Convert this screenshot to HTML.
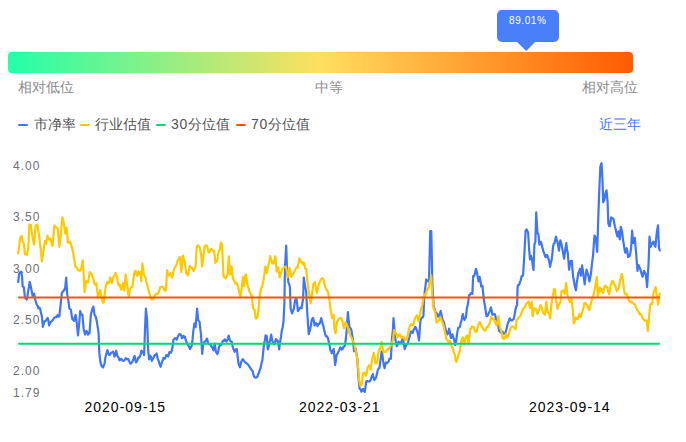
<!DOCTYPE html>
<html><head><meta charset="utf-8">
<style>
html,body{margin:0;padding:0;background:#fff;}
body{width:686px;height:442px;position:relative;overflow:hidden;font-family:"Liberation Sans",sans-serif;}
.t{position:absolute;white-space:nowrap;line-height:1;}
.bar{position:absolute;left:8px;top:51.6px;width:624.5px;height:21.6px;border-radius:4px;background:linear-gradient(90deg,#22FFAA 0%,#FFDF5F 50%,#FF5B00 100%);}
.tip{position:absolute;left:497px;top:10px;width:62px;height:31.7px;border-radius:5px;background:#4A7FFA;}
.lab{font-size:14px;color:#8a8a8a;}
.leg{font-size:14px;color:#555;}
.dash{position:absolute;height:2px;top:123.8px;width:10px;border-radius:1px;}
.ya{font-size:12px;color:#6E7079;letter-spacing:1px;}
.xa{font-size:14px;color:#000;letter-spacing:1px;}
svg{position:absolute;left:0;top:0;}
</style></head><body>
<div class="bar"></div>
<div class="tip"></div>
<svg width="686" height="442" style="position:absolute;left:0;top:0">
<polygon points="516.6,41.5 535.6,41.5 526.2,51" fill="#4A7FFA"/>
</svg>
<div class="t" id="tiptext" style="left:509px;top:16px;font-size:10px;color:#fff;letter-spacing:0.6px;">89.01%</div>
<div class="t lab" id="l1" style="left:18px;top:80px;">相对低位</div>
<div class="t lab" id="l2" style="left:315px;top:80px;">中等</div>
<div class="t lab" id="l3" style="left:582px;top:80px;">相对高位</div>

<div class="dash" style="left:18.2px;background:#3F75F8"></div>
<div class="t leg" id="g1" style="left:34px;top:117px;">市净率</div>
<div class="dash" style="left:80px;background:#FFC800"></div>
<div class="t leg" id="g2" style="left:95px;top:117px;">行业估值</div>
<div class="dash" style="left:155.8px;background:#06D876"></div>
<div class="t leg" id="g3" style="left:171px;top:117px;"><span style="letter-spacing:0.8px">30</span>分位值</div>
<div class="dash" style="left:235.8px;background:#FF5500"></div>
<div class="t leg" id="g4" style="left:251px;top:117px;"><span style="letter-spacing:0.8px">70</span>分位值</div>
<div class="t" id="g5" style="left:599px;top:117px;font-size:14px;color:#3F75F8;">近三年</div>

<div class="t ya" id="y1" style="left:13px;top:160px;">4.00</div>
<div class="t ya" id="y2" style="left:13px;top:211px;">3.50</div>
<div class="t ya" id="y3" style="left:13px;top:263px;">3.00</div>
<div class="t ya" id="y4" style="left:13px;top:314px;">2.50</div>
<div class="t ya" id="y5" style="left:13px;top:365px;">2.00</div>
<div class="t ya" id="y6" style="left:13px;top:387px;">1.79</div>

<div class="t xa" id="x1" style="left:84.5px;top:400px;">2020-09-15</div>
<div class="t xa" id="x2" style="left:299px;top:400px;">2022-03-21</div>
<div class="t xa" id="x3" style="left:529px;top:400px;">2023-09-14</div>

<svg width="686" height="442">
<polyline fill="none" stroke="#3F75F8" stroke-width="2.2" stroke-linejoin="round" stroke-linecap="round" points="18.2,281.9 19.1,273.8 20.1,272.4 21.2,271.6 22.1,276.8 22.6,286.3 23.8,287.1 25.0,298.1 25.9,298.0 26.8,299.6 27.5,295.9 28.2,290.7 28.9,286.9 29.7,281.9 30.4,284.7 31.2,288.5 31.9,292.2 32.6,295.9 33.4,294.7 34.1,293.7 34.9,297.7 35.6,301.0 36.4,303.8 37.1,305.4 37.8,306.0 38.5,308.4 39.4,307.7 40.3,309.1 41.0,313.1 41.8,315.7 42.9,326.8 43.6,324.1 44.4,321.6 45.5,321.1 46.6,319.4 47.6,317.9 48.4,320.5 49.1,325.3 50.0,323.3 51.0,321.6 52.1,321.0 53.2,319.4 54.3,317.7 55.4,317.2 56.5,317.1 57.6,315.0 58.5,316.6 59.4,316.5 60.6,304.7 61.8,293.7 62.6,291.6 63.5,291.5 64.2,289.4 65.0,289.3 66.2,277.5 67.2,294.4 68.2,299.6 69.4,308.4 70.2,309.2 70.9,309.9 71.7,315.6 72.4,319.4 73.2,319.9 74.1,320.9 74.8,317.3 75.6,315.0 76.8,323.1 78.0,335.3 79.2,323.5 80.2,311.0 81.2,314.7 82.4,314.7 83.6,328.7 84.3,331.5 85.1,334.6 85.8,331.7 86.5,330.9 87.2,332.1 88.0,334.6 88.8,333.7 89.5,333.1 90.2,323.9 90.9,314.7 91.7,311.2 92.4,308.8 93.4,306.6 94.5,314.7 95.2,315.6 95.9,317.6 96.7,320.7 97.4,325.0 98.6,333.1 99.3,352.9 100.4,361.8 101.5,366.0 102.2,366.7 103.0,367.5 103.8,365.3 104.5,364.0 105.3,358.1 106.2,354.4 107.4,350.0 108.3,353.3 109.2,355.1 110.2,354.1 111.1,352.9 112.0,352.5 113.0,351.5 113.8,353.4 114.5,356.6 115.3,354.7 116.2,350.7 117.0,354.4 117.7,356.6 118.6,357.6 119.5,360.3 120.5,359.2 121.4,358.8 122.5,360.4 123.6,361.0 124.7,360.0 125.8,358.1 126.9,359.4 128.0,358.8 128.9,360.5 129.8,362.5 130.5,363.6 131.2,363.2 132.1,362.1 133.1,360.3 133.8,357.7 134.6,355.9 135.3,359.4 136.1,362.5 137.2,360.8 138.3,357.4 139.2,357.7 140.0,356.5 140.8,353.6 141.5,350.6 142.2,351.5 142.9,352.1 144.1,355.0 145.1,327.1 145.9,308.7 147.1,319.7 148.1,349.1 149.1,359.4 150.3,355.7 151.1,357.3 151.8,360.9 152.7,358.8 153.5,357.9 154.7,355.0 155.6,354.9 156.5,353.5 157.2,356.3 157.9,359.4 158.7,360.9 159.4,363.8 160.6,366.8 161.3,364.3 162.1,361.6 162.8,360.2 163.5,357.9 164.2,358.7 165.0,358.7 165.8,356.6 166.5,355.0 167.3,355.6 168.2,356.5 169.4,352.1 170.2,352.5 170.9,352.8 171.7,350.8 172.4,347.6 173.5,339.6 174.4,338.9 175.3,338.1 176.1,338.6 176.8,339.6 177.5,337.7 178.2,335.9 179.3,334.1 180.4,334.4 181.2,335.2 181.9,338.1 182.7,337.4 183.4,335.9 184.2,337.3 184.9,336.6 185.6,339.4 186.3,341.8 187.2,343.4 188.2,345.4 189.1,346.5 190.0,349.1 190.9,347.3 191.8,345.4 192.5,339.9 193.2,332.2 194.4,323.4 195.6,327.1 196.3,318.5 197.1,308.7 198.1,319.7 198.8,320.9 199.6,321.9 200.3,328.9 201.0,334.4 202.2,354.0 203.2,344.5 204.1,342.4 205.1,341.5 206.1,340.1 207.1,338.6 207.8,342.1 208.5,343.7 209.4,344.3 210.3,344.5 211.2,345.9 212.1,347.4 212.8,348.4 213.5,350.4 214.7,343.7 215.9,351.8 216.7,353.0 217.4,354.0 218.2,351.4 219.1,346.7 220.0,344.9 220.9,345.2 221.9,343.6 222.8,340.8 223.8,340.8 224.7,339.3 225.6,341.2 226.5,341.5 227.6,339.1 228.7,335.6 229.4,338.9 230.1,340.8 230.8,341.2 231.6,341.5 232.3,344.9 233.1,348.1 233.8,349.8 234.6,351.8 235.7,349.4 236.8,348.9 237.7,357.1 238.5,363.6 239.2,365.6 240.0,367.3 241.2,362.1 242.1,360.0 242.9,359.2 243.9,360.7 244.9,362.1 246.0,362.8 247.1,363.6 248.2,364.7 249.3,366.5 250.2,367.7 251.2,369.5 251.9,370.3 252.6,370.9 253.3,374.1 254.1,376.8 255.0,377.4 255.9,377.6 256.6,377.1 257.4,376.8 258.1,373.9 258.8,373.1 259.7,370.0 260.6,368.0 261.5,363.3 262.4,360.0 263.2,351.9 264.1,343.5 264.9,340.2 265.6,335.4 266.8,336.2 267.8,349.4 268.6,347.1 269.3,343.5 270.2,339.8 271.2,334.7 271.9,339.1 272.6,342.1 273.4,342.7 274.1,344.3 275.0,342.5 275.9,339.1 276.8,340.2 277.6,340.6 278.4,344.1 279.1,349.4 280.1,342.1 281.0,336.9 281.8,330.7 282.7,327.2 283.5,321.5 284.4,302.4 285.0,266.5 286.2,245.6 286.9,266.5 287.6,274.0 288.4,282.6 289.1,284.0 289.9,287.1 290.6,308.2 291.4,311.1 292.1,313.4 293.0,310.9 293.8,309.0 295.0,300.9 295.8,298.9 296.5,298.7 297.2,304.2 297.9,311.2 298.8,309.8 299.7,308.2 300.6,307.5 301.6,308.2 302.4,303.0 303.1,298.7 303.8,277.5 304.6,282.8 305.3,287.1 306.2,291.6 307.2,311.5 307.9,322.8 308.7,334.2 309.4,331.6 310.1,329.8 310.9,325.3 311.6,320.9 312.4,318.4 313.1,318.0 313.9,321.5 314.6,325.4 315.3,324.1 316.0,323.1 316.8,323.9 317.5,326.1 318.4,324.1 319.4,323.9 320.3,321.8 321.2,318.0 321.9,321.0 322.6,323.9 323.4,326.2 324.1,329.8 324.9,332.9 325.6,335.6 326.4,336.7 327.1,336.4 328.0,338.3 328.8,342.3 329.6,345.3 330.3,350.4 331.1,351.1 331.8,353.3 332.8,351.6 333.7,348.9 334.4,356.3 335.1,365.1 335.9,360.4 336.6,354.8 337.6,353.7 338.5,351.8 339.4,349.7 340.3,347.4 341.1,347.9 341.8,349.6 342.6,349.2 343.5,346.7 344.2,346.6 345.0,345.2 345.8,339.0 346.5,332.7 347.2,321.8 347.9,312.2 348.6,319.8 349.4,326.8 350.4,328.1 351.3,329.8 352.1,334.4 352.8,338.6 354.1,351.3 354.9,349.5 355.6,348.4 356.5,354.2 357.4,359.4 358.5,378.5 359.6,388.8 360.6,389.3 361.5,391.8 362.4,389.9 363.2,388.8 363.9,391.3 364.7,391.8 365.4,387.5 366.2,381.5 367.3,381.1 368.4,381.5 369.5,381.5 370.6,380.0 371.7,376.6 372.8,374.1 373.6,378.0 374.3,380.0 375.2,379.1 376.2,377.1 377.0,373.2 377.9,369.7 378.6,368.4 379.4,368.2 380.6,359.4 381.6,351.3 382.4,355.0 383.1,360.9 383.9,365.4 384.6,368.2 385.3,364.3 386.0,362.4 386.9,363.1 387.9,362.4 388.6,361.6 389.4,358.7 390.1,358.9 390.9,358.7 391.9,338.8 392.9,330.0 393.5,318.0 394.2,326.2 394.9,335.9 395.9,341.9 396.8,346.2 397.6,345.0 398.5,341.8 399.6,342.9 400.7,343.2 401.8,340.7 402.9,338.1 403.8,343.3 404.7,349.1 405.6,346.6 406.6,344.7 407.9,343.2 408.6,339.7 409.4,337.4 410.1,334.8 410.9,331.5 411.8,332.1 412.6,332.9 413.4,330.4 414.1,329.3 414.9,327.3 415.6,327.1 416.4,329.3 417.1,330.7 418.1,335.1 419.0,340.3 419.7,330.7 420.4,321.2 421.1,319.0 421.9,317.5 422.6,317.6 423.4,316.0 424.4,294.7 425.4,286.7 426.2,279.4 426.9,281.0 427.6,280.8 428.3,280.3 429.0,282.0 430.2,231.0 431.3,231.0 432.4,285.0 433.7,306.5 434.4,308.4 435.1,311.6 436.1,312.3 437.1,313.8 438.0,316.4 438.8,316.8 439.7,314.5 440.6,310.9 441.6,314.9 442.5,319.7 443.2,320.5 444.0,322.6 444.9,326.7 445.9,330.0 446.8,332.9 447.6,334.4 448.4,332.4 449.1,328.5 450.0,333.0 450.9,338.1 451.6,337.1 452.4,334.4 453.1,337.0 453.8,338.8 454.6,341.9 455.3,345.0 456.1,341.5 456.8,335.9 457.5,331.3 458.2,327.8 459.1,327.6 460.0,326.5 460.8,322.6 461.5,320.6 462.2,316.6 462.9,314.0 463.6,317.9 464.4,319.9 465.1,318.1 465.9,317.6 466.8,308.7 467.9,304.1 469.1,295.3 470.0,294.8 470.9,293.1 471.6,293.7 472.4,293.8 473.1,276.2 473.9,276.2 474.6,274.7 475.3,271.5 476.0,268.8 476.8,271.7 477.5,275.4 478.5,281.3 479.7,276.9 480.4,281.2 481.2,286.5 482.4,285.7 483.4,295.3 484.1,301.3 484.9,305.6 485.7,311.1 486.5,316.2 487.6,315.7 488.7,313.2 489.8,311.2 490.9,307.4 491.6,310.2 492.4,314.7 493.5,314.5 494.6,314.0 495.3,315.7 496.0,319.1 496.9,319.9 497.9,322.8 499.0,330.9 499.7,330.7 500.4,332.4 501.5,332.8 502.6,331.6 503.4,333.3 504.1,333.8 505.0,333.4 505.9,331.6 506.9,327.2 507.8,323.5 508.8,321.2 509.7,318.4 510.8,320.1 511.8,320.6 512.8,319.6 513.7,319.1 514.7,314.1 515.6,308.8 516.4,306.3 517.1,305.1 517.6,286.5 518.4,284.8 519.1,285.0 519.9,282.3 520.6,280.6 521.6,276.2 522.4,276.3 523.1,274.7 524.4,253.5 525.6,230.7 526.6,229.3 527.4,230.9 528.1,232.2 529.1,249.1 530.0,259.4 531.0,255.7 532.1,260.1 532.8,266.0 533.5,270.0 534.4,244.7 535.4,241.8 536.2,212.4 537.4,232.9 538.4,234.4 539.4,244.7 540.1,243.2 540.9,241.8 541.6,244.2 542.4,247.6 543.3,251.2 544.3,253.5 545.0,256.1 545.7,257.2 546.5,255.0 547.2,255.0 548.0,257.6 548.7,259.4 549.4,262.2 550.1,266.8 550.9,262.6 551.6,260.1 552.4,254.0 553.1,246.2 553.9,243.7 554.6,243.2 555.3,239.3 556.0,236.6 556.8,240.3 557.5,241.8 558.2,246.0 559.0,250.6 559.7,244.6 560.4,240.3 561.1,242.5 561.9,246.2 562.9,252.1 564.1,258.7 565.2,250.4 566.3,243.2 567.0,248.9 567.8,253.5 569.1,269.7 570.3,262.4 571.0,260.8 571.8,260.9 572.5,269.9 573.2,277.1 574.0,281.2 574.7,285.9 575.9,290.3 576.9,281.5 577.6,278.1 578.4,272.6 579.1,271.7 579.9,269.0 580.9,275.6 582.1,265.3 582.8,270.0 583.5,275.6 584.7,284.4 585.6,276.5 586.5,269.7 587.2,271.8 587.9,274.1 588.6,276.9 589.4,281.5 590.1,278.1 590.9,274.1 592.1,262.4 593.1,255.0 593.8,244.2 594.5,235.5 595.2,236.7 596.0,240.0 597.2,251.8 598.1,223.0 599.1,194.8 600.3,166.8 601.5,163.2 602.5,180.1 603.2,202.1 604.4,199.9 605.4,193.3 606.5,190.4 607.6,202.1 608.3,223.2 609.0,225.8 609.8,226.2 610.5,221.4 611.2,217.4 612.3,218.3 613.4,218.8 614.1,222.4 614.9,226.2 615.6,229.1 616.4,232.8 617.4,236.5 618.6,231.3 619.8,239.4 620.8,226.9 621.5,229.2 622.3,233.5 623.0,239.6 623.7,243.8 624.5,249.2 625.2,252.6 626.0,251.4 626.7,248.2 627.4,251.8 628.1,257.1 628.9,256.1 629.6,256.3 630.4,252.5 631.1,248.2 632.1,230.6 633.3,243.1 634.0,241.6 634.8,237.9 635.5,246.1 636.2,254.1 637.5,270.9 638.5,265.0 639.5,267.6 640.4,269.4 641.5,273.5 642.6,276.8 643.4,273.3 644.1,270.9 644.9,272.4 645.6,273.8 646.4,280.0 647.1,287.1 647.8,275.5 648.5,265.0 649.5,236.5 650.6,246.8 651.4,244.4 652.1,243.8 652.9,242.2 653.6,241.6 654.5,245.3 655.4,246.8 656.1,239.3 656.8,232.1 658.0,225.4 659.0,248.2 659.8,250.4"/>
<polyline fill="none" stroke="#FFC800" stroke-width="2.2" stroke-linejoin="round" stroke-linecap="round" points="18.2,253.4 19.1,246.7 20.1,237.9 20.9,237.8 21.6,235.7 22.6,241.6 23.8,243.1 25.0,254.1 25.9,253.5 26.8,254.9 27.5,251.4 28.2,249.7 29.4,224.7 30.1,225.4 30.9,224.7 31.6,231.1 32.4,236.5 33.2,240.9 34.1,244.6 34.9,234.6 35.6,225.4 36.5,225.3 37.4,224.7 38.3,230.8 39.3,236.5 40.2,245.0 41.0,252.4 41.9,261.5 42.8,255.4 43.7,249.7 44.4,245.1 45.1,240.9 46.2,243.8 47.4,235.7 48.2,238.0 49.1,239.4 49.9,240.1 50.7,238.7 51.6,243.3 52.5,246.0 53.5,235.8 54.4,225.4 55.3,226.4 56.2,227.6 56.9,227.5 57.6,228.4 58.5,236.6 59.4,246.8 60.1,239.9 60.9,235.0 61.6,226.1 62.4,217.4 63.2,220.3 64.0,224.0 65.3,233.5 66.5,227.6 67.2,234.7 67.9,242.4 69.0,242.9 70.1,241.6 70.9,244.1 71.6,246.7 72.4,249.0 73.1,252.5 73.8,257.1 74.5,260.8 75.3,266.6 76.2,267.3 77.0,268.1 77.9,270.0 79.0,270.4 80.1,270.7 80.8,270.0 81.6,267.1 82.6,260.4 83.5,271.5 84.6,292.1 85.3,286.9 86.0,281.0 87.0,281.1 87.9,282.5 88.8,278.2 89.7,272.2 90.6,273.6 91.5,273.7 92.5,276.8 93.4,278.8 94.2,282.6 94.9,284.7 95.6,284.5 96.3,283.2 97.2,291.2 98.2,297.9 99.2,293.6 100.3,289.9 101.2,296.5 102.2,300.9 103.0,302.7 103.7,302.4 104.8,293.2 105.9,285.4 106.7,284.2 107.4,281.8 108.1,283.0 108.8,283.2 109.5,280.2 110.3,277.4 111.0,280.4 111.8,283.2 112.7,279.9 113.5,276.6 114.5,275.7 115.4,272.9 116.2,274.8 116.9,276.6 117.7,281.7 118.4,285.4 119.2,284.7 119.9,284.7 120.6,288.1 121.3,289.9 122.0,287.4 122.8,283.2 123.5,286.8 124.3,290.6 125.0,282.6 125.7,274.4 126.5,280.5 127.2,284.7 127.9,291.1 128.7,296.5 129.4,292.8 130.1,289.1 130.9,287.8 131.6,287.2 132.4,286.9 133.2,280.7 134.1,273.7 134.8,271.5 135.6,270.7 136.3,274.2 137.1,275.9 137.8,273.2 138.5,271.5 139.2,274.0 140.0,274.7 140.6,271.8 141.2,281.3 142.4,263.7 143.2,268.4 143.9,274.0 144.8,276.8 145.6,277.6 146.3,281.8 147.1,285.0 148.1,288.3 149.0,291.6 149.8,294.2 150.7,297.1 151.5,299.3 152.4,299.3 153.4,299.0 154.5,296.4 155.6,294.6 156.4,293.7 157.1,294.1 157.9,293.8 159.0,291.5 160.1,287.2 161.2,287.1 162.3,286.5 163.4,287.4 164.5,290.1 165.2,290.8 165.9,290.1 167.1,270.3 167.8,273.3 168.6,275.4 169.5,275.2 170.4,273.2 171.2,274.7 172.1,277.6 172.8,274.5 173.6,270.3 174.6,267.5 175.5,266.6 176.2,265.1 177.0,262.9 177.7,260.6 178.4,259.3 179.2,257.6 179.9,257.1 180.7,265.3 181.4,271.8 182.2,262.8 182.9,255.6 183.9,258.9 184.8,262.2 185.7,268.9 186.5,274.0 187.2,274.1 188.0,275.4 188.9,270.0 189.8,265.9 190.8,267.5 191.7,267.4 192.6,269.0 193.6,271.0 194.6,269.3 195.6,266.6 196.8,246.8 197.7,245.4 198.6,246.0 199.3,246.8 200.0,248.2 201.2,255.5 202.2,266.6 202.9,259.6 203.7,254.1 204.7,246.0 205.6,246.0 206.6,245.2 207.6,248.0 208.5,252.6 209.4,252.1 210.3,249.6 211.4,249.0 212.5,250.4 213.2,250.9 214.0,250.4 214.7,255.6 215.4,262.9 216.2,261.6 216.9,261.4 217.7,257.7 218.4,252.6 219.2,250.3 219.9,249.6 220.9,242.3 222.1,245.2 222.8,260.0 223.5,276.1 224.6,277.6 225.7,278.3 226.6,276.2 227.6,274.6 228.8,256.3 230.1,274.6 230.8,269.6 231.6,266.6 232.3,273.9 233.1,279.1 234.2,280.5 235.3,283.5 236.2,282.8 237.1,284.2 238.1,287.2 239.0,290.8 239.7,294.0 240.4,296.7 241.2,292.1 241.9,286.4 242.9,276.9 244.1,286.4 244.8,279.6 245.6,274.6 246.2,274.6 247.2,284.1 248.3,287.4 249.4,291.5 250.2,292.3 250.9,295.1 251.6,295.0 252.3,301.5 253.1,308.2 253.8,309.5 254.6,309.7 255.6,318.5 256.6,318.3 257.5,317.1 258.2,311.3 259.0,303.8 259.7,295.1 260.4,292.4 261.2,288.5 261.9,287.1 262.6,284.1 263.4,280.9 264.1,276.8 265.3,266.5 266.1,269.7 266.8,273.1 267.6,268.4 268.5,265.0 269.4,261.0 270.3,256.2 271.2,259.4 272.2,263.5 272.9,262.6 273.7,263.5 274.5,259.7 275.4,256.2 276.6,271.6 277.4,270.2 278.1,267.2 278.9,271.5 279.6,277.5 280.7,274.0 281.8,270.1 282.9,268.4 284.0,267.2 284.9,266.9 285.9,266.5 286.8,271.2 287.6,277.5 288.5,273.7 289.4,267.9 290.4,271.8 291.3,276.8 292.4,275.5 293.5,273.8 294.6,271.1 295.7,268.7 296.6,267.2 297.6,267.9 298.5,263.3 299.4,258.4 300.1,259.5 300.9,262.1 301.8,262.2 302.6,264.3 303.4,262.5 304.1,262.8 305.3,268.7 306.2,268.8 307.2,279.1 307.9,284.3 308.7,290.9 309.6,296.3 310.6,303.4 311.4,298.5 312.1,293.1 312.8,288.3 313.5,283.5 314.2,283.9 315.0,282.1 315.9,288.6 316.8,293.1 317.6,290.5 318.5,285.7 319.4,282.6 320.4,280.6 321.1,279.4 321.9,278.4 322.6,278.2 323.4,279.1 324.1,282.6 324.9,285.7 325.6,287.8 326.3,289.4 327.1,290.8 327.8,290.9 328.6,295.8 329.3,299.7 330.0,304.3 330.7,310.0 331.4,313.9 332.2,318.1 332.9,316.7 333.7,315.1 334.4,328.3 335.6,333.4 336.6,323.9 337.4,321.0 338.1,320.2 339.1,318.4 340.0,318.5 341.0,318.0 341.8,319.0 342.5,321.7 343.2,325.5 344.0,328.3 344.7,324.8 345.4,322.4 346.5,323.7 347.6,326.8 348.4,329.0 349.1,332.7 349.9,334.0 350.6,336.4 351.6,337.7 352.5,340.3 353.4,342.5 354.4,344.7 355.5,349.8 356.6,355.0 357.4,360.5 358.1,366.8 359.1,380.0 360.3,385.9 361.1,385.5 361.8,384.4 362.9,374.1 363.8,372.7 364.7,372.6 365.4,375.0 366.2,375.6 366.9,372.6 367.6,367.5 368.4,366.9 369.1,365.3 369.9,367.4 370.6,369.7 371.4,364.6 372.1,359.4 373.0,356.3 373.8,352.8 374.6,357.0 375.3,363.1 376.2,362.9 377.2,363.1 377.9,356.9 378.7,350.6 379.4,349.1 380.1,349.1 380.9,344.6 381.6,341.8 382.6,347.6 383.5,352.1 384.4,351.8 385.3,352.1 386.4,350.6 387.5,349.1 388.4,349.3 389.4,347.6 390.4,346.4 391.5,344.7 392.2,342.0 392.9,340.3 394.1,330.0 395.0,332.5 395.9,332.9 396.9,334.9 397.8,337.4 398.9,334.8 400.0,334.4 400.8,336.7 401.5,338.1 402.4,336.5 403.2,336.6 404.1,338.0 405.0,340.3 406.1,339.6 407.2,337.4 408.1,333.3 409.1,328.5 410.1,325.2 411.2,324.1 412.1,324.7 413.1,325.6 414.1,321.7 415.0,318.2 415.9,316.7 416.8,315.3 417.6,317.6 418.5,321.2 419.4,317.0 420.4,312.4 421.4,307.8 422.4,305.0 423.2,299.4 424.1,294.7 425.0,294.4 425.9,294.7 427.1,288.8 428.0,289.1 428.8,287.4 429.6,282.8 430.3,280.0 431.3,275.7 432.2,294.7 432.9,302.6 433.7,309.4 434.4,309.8 435.1,311.6 435.9,317.3 436.6,322.6 437.6,321.7 438.5,321.2 439.4,318.9 440.3,316.8 441.2,319.6 442.1,321.2 442.8,323.2 443.5,325.6 444.2,328.4 445.0,332.9 445.8,335.4 446.5,339.6 447.4,339.8 448.4,341.8 449.1,342.2 449.9,341.0 450.9,343.7 451.8,346.9 452.8,348.3 453.7,352.1 454.6,354.1 455.4,358.9 456.3,361.9 457.2,359.5 458.1,356.4 459.1,353.0 460.0,350.0 460.8,344.5 461.5,339.7 462.2,338.5 462.9,337.5 463.6,341.5 464.4,344.1 465.1,339.9 465.9,336.8 466.6,336.1 467.4,335.3 468.5,344.1 469.4,336.4 470.3,328.7 471.2,328.6 472.1,326.5 473.1,327.5 474.0,327.2 474.7,330.4 475.4,331.6 476.1,332.0 476.9,330.9 477.6,327.5 478.4,325.0 479.1,323.0 479.9,322.1 480.9,324.6 481.8,327.2 482.6,327.8 483.5,329.4 484.2,330.0 485.0,330.9 485.9,329.4 486.8,327.2 487.8,327.0 488.7,325.0 489.4,323.7 490.1,322.1 491.2,316.9 491.9,318.7 492.6,319.1 493.4,318.6 494.1,319.9 494.9,321.4 495.6,323.5 496.4,325.0 497.1,324.3 497.8,319.5 498.5,316.2 499.7,326.5 500.4,328.5 501.2,330.9 501.9,333.6 502.6,338.2 503.4,337.7 504.1,339.0 505.0,337.3 505.9,333.8 506.6,336.7 507.4,337.5 508.4,335.3 509.3,332.4 510.4,328.6 511.5,326.5 512.6,326.4 513.7,327.2 514.7,327.7 515.6,329.4 516.6,319.9 517.7,319.1 518.8,317.6 519.9,316.5 521.0,314.7 522.0,311.6 522.9,308.8 523.8,308.2 524.7,307.4 525.2,306.6 526.2,303.9 527.1,302.9 527.9,302.3 528.6,301.5 529.4,305.8 530.1,308.1 530.9,305.4 531.6,301.5 532.6,316.2 533.4,311.3 534.1,308.1 535.0,308.5 536.0,308.8 536.7,311.9 537.4,314.0 538.1,311.6 538.9,310.3 539.6,308.6 540.4,305.1 541.1,306.5 541.9,308.1 542.6,311.1 543.3,313.2 544.0,313.7 544.8,314.7 545.5,309.2 546.3,301.5 547.0,307.3 547.7,311.8 548.5,313.1 549.2,314.0 550.2,318.4 551.4,304.4 552.1,299.2 552.9,295.6 554.1,289.0 555.1,289.7 556.1,300.7 556.9,304.6 557.6,308.8 558.4,305.6 559.1,304.4 559.8,303.2 560.5,301.5 561.5,291.0 562.4,291.5 563.2,290.3 564.0,291.4 564.7,294.0 565.5,288.5 566.2,282.9 567.4,294.7 568.5,299.1 569.2,300.6 570.0,302.1 570.8,300.4 571.5,299.1 572.2,305.5 572.9,310.9 573.8,323.5 574.8,321.5 575.7,317.6 576.7,318.8 577.6,319.1 578.5,316.5 579.4,314.0 580.1,316.5 580.8,316.9 581.7,313.6 582.6,311.0 583.4,307.9 584.1,303.7 585.3,302.8 586.2,304.2 587.2,305.0 588.2,308.1 589.1,310.1 590.0,307.6 590.9,303.5 591.8,299.9 592.6,297.6 593.6,294.2 594.6,290.3 595.7,283.5 596.8,277.1 597.9,296.2 598.8,292.2 599.7,287.4 600.0,291.5 600.8,291.0 601.5,288.5 602.4,291.0 603.2,292.9 604.2,288.2 605.1,285.6 605.9,286.0 606.6,287.1 607.4,287.1 608.2,291.6 609.1,294.4 609.9,290.3 610.6,285.6 611.4,284.1 612.1,281.2 613.0,281.2 614.0,283.4 614.7,285.5 615.4,285.6 616.1,289.1 616.9,291.5 617.8,289.5 618.8,287.1 619.5,284.3 620.3,279.7 621.0,277.6 621.8,273.8 622.5,277.3 623.2,282.6 624.0,288.8 624.7,293.7 625.6,294.3 626.5,293.7 627.4,295.6 628.2,298.8 629.2,300.8 630.1,301.8 630.9,302.2 631.6,301.6 632.4,302.5 633.5,303.9 634.6,304.0 635.3,305.0 636.0,307.6 637.0,309.3 637.9,310.6 638.8,312.3 639.7,314.3 640.6,314.1 641.5,315.0 642.2,317.0 642.9,318.7 643.9,319.7 644.9,320.9 645.8,320.3 646.8,320.9 647.8,331.0 648.5,323.3 649.3,313.5 650.3,304.7 651.2,303.4 652.2,304.0 653.0,297.0 653.7,292.2 654.7,289.6 655.6,287.1 656.6,294.4 657.4,300.3 658.1,304.7 658.9,299.5 659.6,293.7"/>
<line x1="18.2" y1="343.7" x2="659.8" y2="343.7" stroke="#06D876" stroke-width="2"/>
<line x1="18.2" y1="297.4" x2="659.8" y2="297.4" stroke="#FF5500" stroke-width="2"/>
</svg>
</body></html>
